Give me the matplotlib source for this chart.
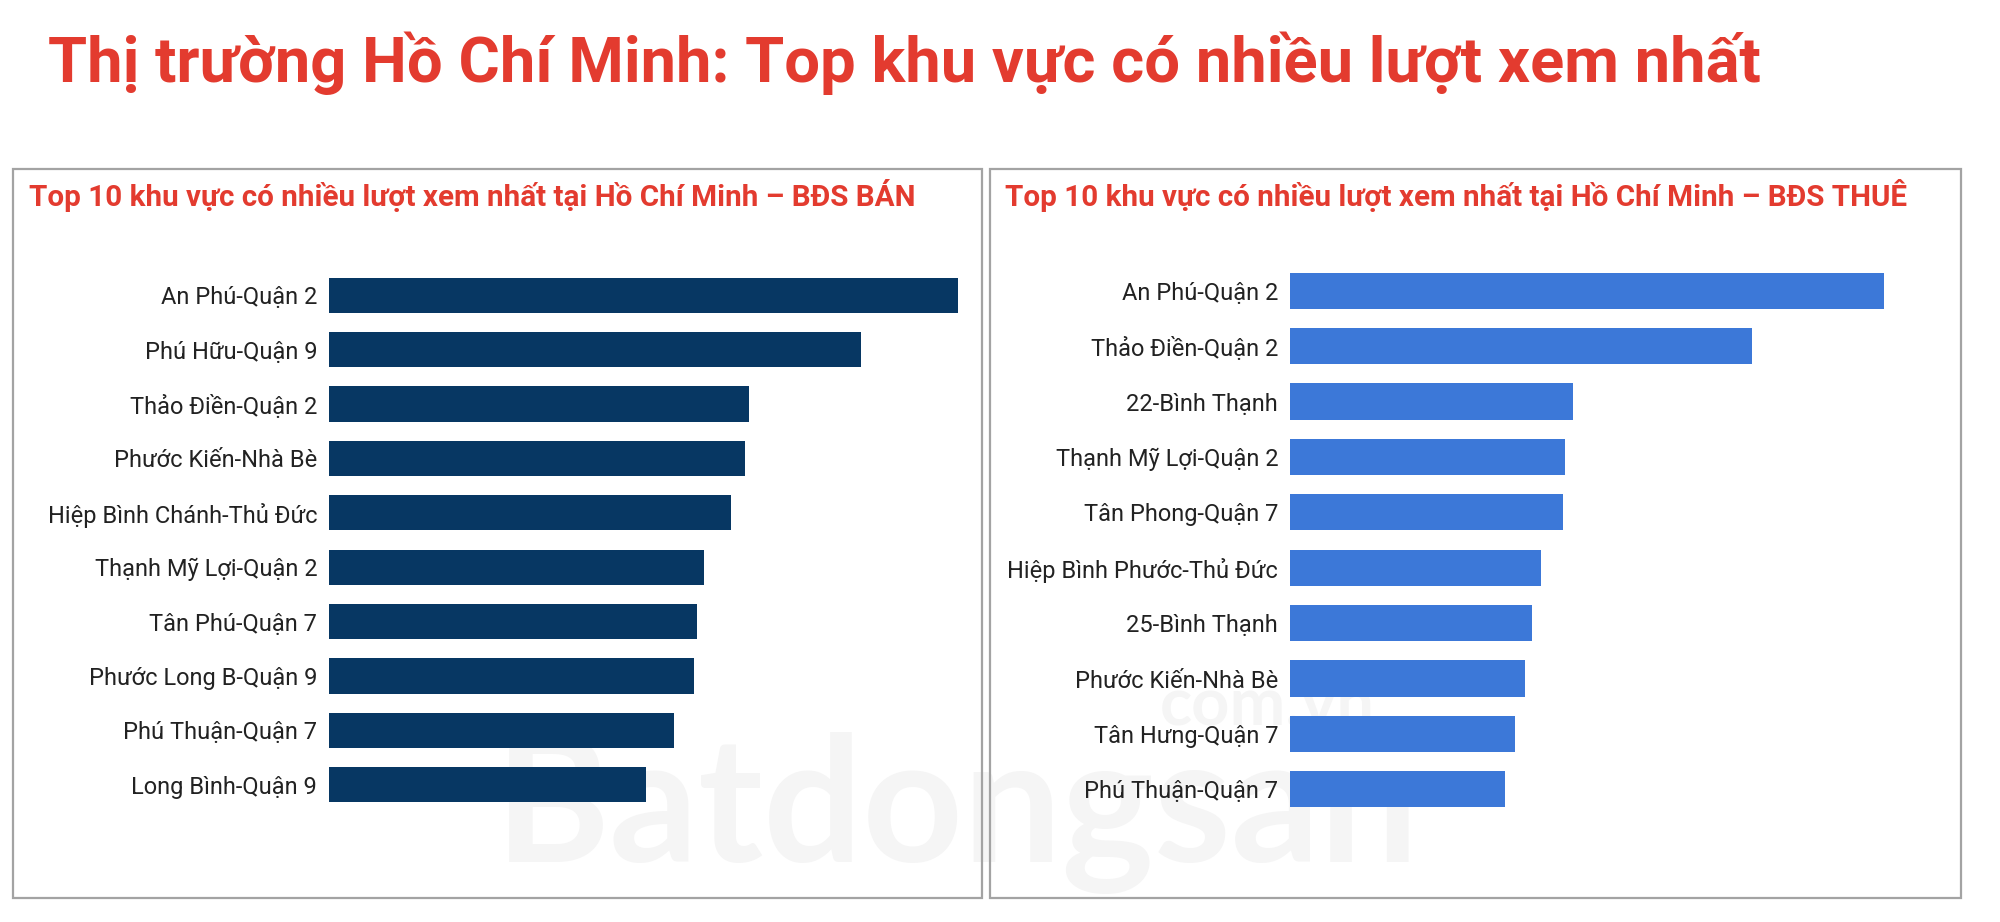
import matplotlib.pyplot as plt
from matplotlib.patches import Rectangle

plt.rcParams['font.family'] = ['Roboto', 'DejaVu Sans']

# Data (relative view counts, no axis shown)
sale_areas = ["An Phú-Quận 2", "Phú Hữu-Quận 9", "Thảo Điền-Quận 2", "Phước Kiến-Nhà Bè",
              "Hiệp Bình Chánh-Thủ Đức", "Thạnh Mỹ Lợi-Quận 2", "Tân Phú-Quận 7",
              "Phước Long B-Quận 9", "Phú Thuận-Quận 7", "Long Bình-Quận 9"]
sale_views = [629, 532, 420, 416, 402, 375, 368, 365, 345, 317]

rent_areas = ["An Phú-Quận 2", "Thảo Điền-Quận 2", "22-Bình Thạnh", "Thạnh Mỹ Lợi-Quận 2",
              "Tân Phong-Quận 7", "Hiệp Bình Phước-Thủ Đức", "25-Bình Thạnh",
              "Phước Kiến-Nhà Bè", "Tân Hưng-Quận 7", "Phú Thuận-Quận 7"]
rent_views = [594, 462, 283, 275, 273, 251, 242, 235, 225, 215]

main_title = "Thị trường Hồ Chí Minh: Top khu vực có nhiều lượt xem nhất"
sale_title = "Top 10 khu vực có nhiều lượt xem nhất tại Hồ Chí Minh – BĐS BÁN"
rent_title = "Top 10 khu vực có nhiều lượt xem nhất tại Hồ Chí Minh – BĐS THUÊ"

W, H = 2000, 922
RED = "#e33b2f"


def fx(px):
    return px / W


def fy(py):
    return 1 - py / H


fig = plt.figure(figsize=(20, 9.22), dpi=100)
fig.patch.set_facecolor("white")

# faint watermark, kept behind everything
fig.text(fx(495), fy(862), "Batdongsan", fontsize=126, color="#f5f5f5",
         fontfamily="Lato", fontweight="bold", zorder=-2)
fig.text(fx(1160), fy(725), "com.vn", fontsize=48, color="#f5f5f5",
         fontfamily="Lato", fontweight="bold", zorder=-2)

fig.text(fx(48), fy(82), main_title, fontsize=45.5, fontweight="bold", color=RED)

# panel boxes
for x0, x1 in [(13, 982), (990, 1961)]:
    fig.patches.append(Rectangle((fx(x0), fy(898)), fx(x1) - fx(x0), fy(169) - fy(898),
                                 transform=fig.transFigure, fill=False,
                                 edgecolor="#a3a3a3", linewidth=1.6, zorder=1))

fig.text(fx(29), fy(206), sale_title, fontsize=21.3, fontweight="bold", color=RED)
fig.text(fx(1005), fy(206), rent_title, fontsize=21.3, fontweight="bold", color=RED)


def draw_panel(rect, areas, views, color):
    ax = fig.add_axes(rect)
    ax.set_zorder(2)
    ax.patch.set_alpha(0)
    ax.barh(range(len(areas)), views, height=0.65, color=color)
    ax.set_yticks(range(len(areas)))
    ax.set_yticklabels(areas, fontsize=17, color="#222222")
    ax.set_ylim(len(areas) - 0.5, -0.5)
    ax.set_xlim(0, views[0])
    ax.set_xticks([])
    ax.tick_params(axis="y", length=0, pad=8.5)
    for s in ax.spines.values():
        s.set_visible(False)
    return ax


draw_panel([fx(329), fy(812), fx(958) - fx(329), fy(268) - fy(812)],
           sale_areas, sale_views, "#073763")
draw_panel([fx(1290), fy(817), fx(1884) - fx(1290), fy(263) - fy(817)],
           rent_areas, rent_views, "#3c78d8")

fig.savefig("out.png", dpi=100)
